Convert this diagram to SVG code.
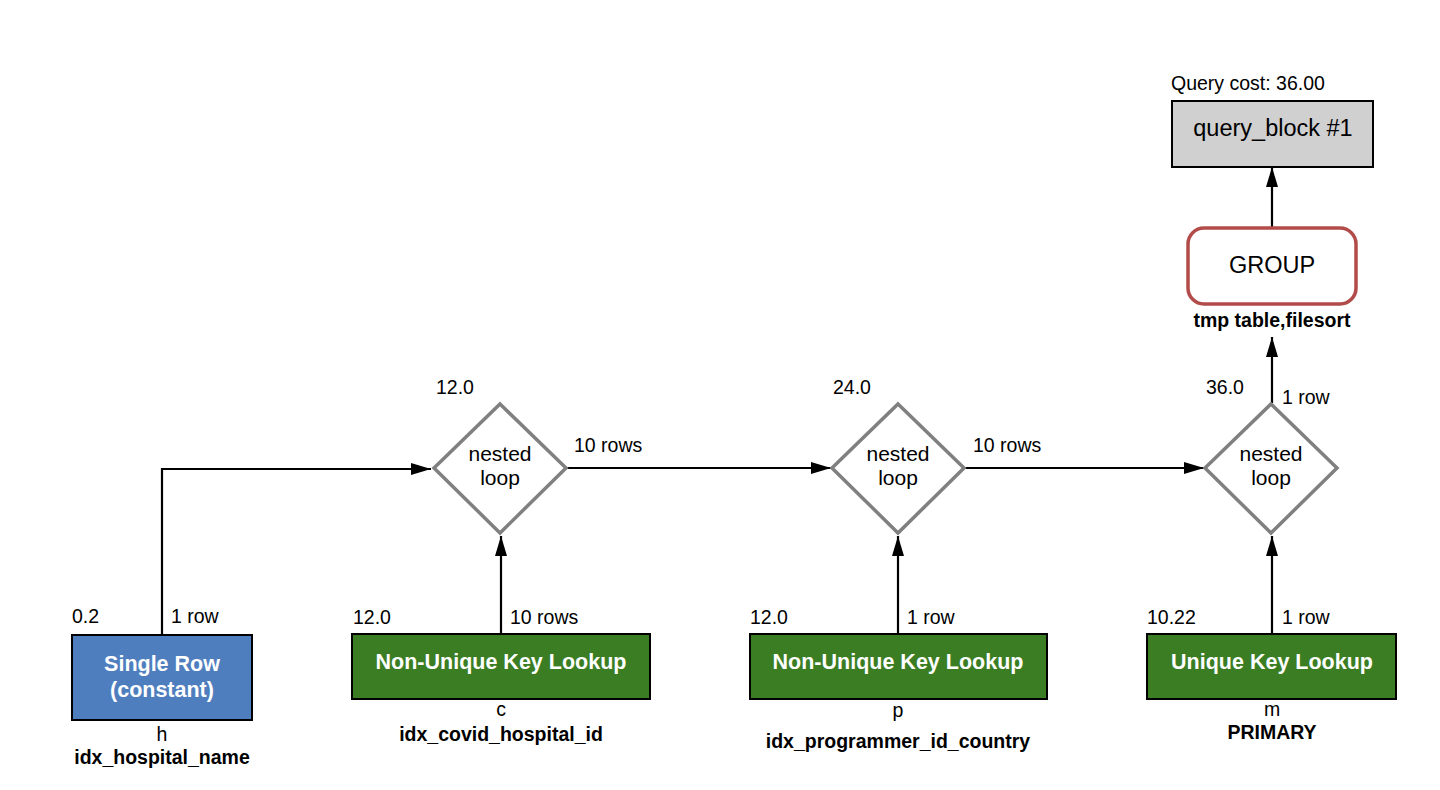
<svg xmlns="http://www.w3.org/2000/svg" width="1440" height="790" viewBox="0 0 1440 790">
<style>
text{font-family:"Liberation Sans",Arial,sans-serif;fill:#000}
.lbl{font-size:19.5px}
.lblb{font-size:19.5px;font-weight:bold}
.nl{font-size:21px;text-anchor:middle}
.bx{stroke:#000;stroke-width:2}
.bt{font-size:21.5px;font-weight:bold;fill:#fff;text-anchor:middle}
.mid{text-anchor:middle}
.dia{fill:#fff;stroke:#808080;stroke-width:3.5}
.con{fill:none;stroke:#000;stroke-width:2.2}
</style>
<defs>
<marker id="ah" markerUnits="userSpaceOnUse" markerWidth="21" markerHeight="13" refX="20" refY="6.5" orient="auto">
<path d="M0,0.5 L20,6.5 L0,12.5 z" fill="#000"/>
</marker>
</defs>
<rect width="1440" height="790" fill="#fff"/>
<g id="connectors">
<path class="con" d="M162,634 V469 H431" marker-end="url(#ah)"/>
<path class="con" d="M501,634 V536" marker-end="url(#ah)"/>
<path class="con" d="M567,468 H831" marker-end="url(#ah)"/>
<path class="con" d="M898,634 V536" marker-end="url(#ah)"/>
<path class="con" d="M965,468 H1204" marker-end="url(#ah)"/>
<path class="con" d="M1272,634 V536" marker-end="url(#ah)"/>
<path class="con" d="M1272,403 V337" marker-end="url(#ah)"/>
<path class="con" d="M1272,227 V167" marker-end="url(#ah)"/>
<text class="lbl" x="171" y="623">1 row</text>
<text class="lbl" x="510" y="624">10 rows</text>
<text class="lbl" x="907" y="624">1 row</text>
<text class="lbl" x="1282" y="624">1 row</text>
<text class="lbl" x="574" y="452">10 rows</text>
<text class="lbl" x="973" y="452">10 rows</text>
<text class="lbl" x="1282" y="404">1 row</text>
</g>
<g id="query_block">
<text class="lbl" x="1171" y="90">Query cost: 36.00</text>
<rect x="1172" y="101" width="201" height="66" fill="#d0d0d0" class="bx"/>
<text x="1273" y="136" style="font-size:23.5px" class="mid">query_block #1</text>
</g>
<g id="group">
<rect x="1188" y="228" width="168" height="76" rx="16" ry="16" fill="#fff" stroke="#b24c4a" stroke-width="3.5"/>
<text x="1272" y="273" style="font-size:23.5px" class="mid">GROUP</text>
<text class="lblb mid" x="1272" y="327">tmp table,filesort</text>
</g>
<g id="nested_loop_1">
<text class="lbl" x="436" y="394">12.0</text>
<polygon class="dia" points="500,404 566,468 500,533 434,468"/>
<text class="nl" x="500" y="461">nested</text>
<text class="nl" x="500" y="485">loop</text>
</g>
<g id="nested_loop_2">
<text class="lbl" x="833" y="394">24.0</text>
<polygon class="dia" points="898,404 964,468 898,533 832,468"/>
<text class="nl" x="898" y="461">nested</text>
<text class="nl" x="898" y="485">loop</text>
</g>
<g id="nested_loop_3">
<text class="lbl" x="1206" y="394">36.0</text>
<polygon class="dia" points="1271,404 1337,468 1271,533 1205,468"/>
<text class="nl" x="1271" y="461">nested</text>
<text class="nl" x="1271" y="485">loop</text>
</g>
<g id="table_h">
<text class="lbl" x="72" y="623">0.2</text>
<rect x="72" y="635" width="180" height="85" fill="#4f7ebe" class="bx"/>
<text class="bt" x="162" y="671">Single Row<tspan x="162" dy="26">(constant)</tspan></text>
<text class="lbl mid" x="162" y="741">h</text>
<text class="lblb mid" x="162" y="764">idx_hospital_name</text>
</g>
<g id="table_c">
<text class="lbl" x="353" y="624">12.0</text>
<rect x="352" y="634" width="298" height="65" fill="#3a7d23" class="bx"/>
<text class="bt" x="501" y="669">Non-Unique Key Lookup</text>
<text class="lbl mid" x="501" y="716">c</text>
<text class="lblb mid" x="501" y="741">idx_covid_hospital_id</text>
</g>
<g id="table_p">
<text class="lbl" x="750" y="624">12.0</text>
<rect x="750" y="634" width="297" height="65" fill="#3a7d23" class="bx"/>
<text class="bt" x="898" y="669">Non-Unique Key Lookup</text>
<text class="lbl mid" x="898" y="717">p</text>
<text class="lblb mid" x="898" y="748">idx_programmer_id_country</text>
</g>
<g id="table_m">
<text class="lbl" x="1147" y="624">10.22</text>
<rect x="1147" y="634" width="249" height="65" fill="#3a7d23" class="bx"/>
<text class="bt" x="1272" y="669">Unique Key Lookup</text>
<text class="lbl mid" x="1272" y="716">m</text>
<text class="lblb mid" x="1272" y="739">PRIMARY</text>
</g>
</svg>
